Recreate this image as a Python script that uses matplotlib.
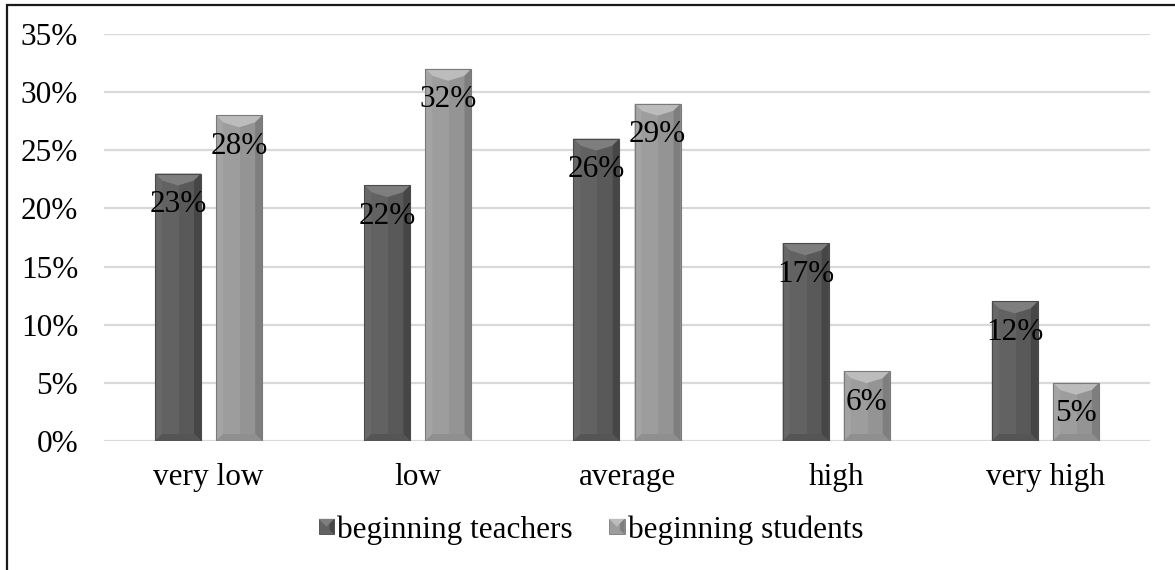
import matplotlib
matplotlib.use("Agg")
import matplotlib.pyplot as plt
import numpy as np
from matplotlib.patches import Polygon, Rectangle
from matplotlib.legend_handler import HandlerPatch
from matplotlib.ticker import FuncFormatter

categories = ["very low", "low", "average", "high", "very high"]
teachers = [23, 22, 26, 17, 12]
students = [28, 32, 29, 6, 5]
series_names = ["beginning teachers", "beginning students"]
yticks = [0, 5, 10, 15, 20, 25, 30, 35]

plt.rcParams['font.family'] = ['Liberation Serif', 'DejaVu Serif']
FS = 22.5

W, H = 1175, 570
fig = plt.figure(figsize=(W / 100, H / 100), dpi=100)
ax = fig.add_axes([104 / W, 1 - 441 / H, (1150 - 104) / W, (441 - 34) / H])

x = np.arange(len(categories))
bw = 0.22
off = 0.146

pal = {
    0: dict(face='#626262', right='#595959', top='#7e7e7e', lft='#686868', rgt='#464646', bot='#555555', edge='#4a4a4a'),
    1: dict(face='#9d9d9d', right='#949494', top='#bcbcbc', lft='#a4a4a4', rgt='#7e7e7e', bot='#8f8f8f', edge='#7a7a7a'),
}

bars0 = ax.bar(x - off, teachers, bw, color=pal[0]['face'], zorder=2, linewidth=0)
bars1 = ax.bar(x + off, students, bw, color=pal[1]['face'], zorder=2, linewidth=0)

ax.set_xlim(-0.5, len(categories) - 0.5)
ax.set_ylim(0, 35)
ax.set_yticks(yticks)
ax.yaxis.set_major_formatter(FuncFormatter(lambda v, p: f"{v:.0f}%"))
ax.set_xticks(x)
ax.set_xticklabels(categories)
ax.tick_params(axis='both', length=0, labelsize=FS)
ax.tick_params(axis='y', pad=18.5)
ax.tick_params(axis='x', pad=16)
for s in ax.spines.values():
    s.set_visible(False)
ax.grid(axis='y', color='#d9d9d9', linewidth=1.6, zorder=0)
ax.set_axisbelow(True)

fig.canvas.draw()
b = 7.0
inv = ax.transData.inverted()


def bevel(rect, c):
    bb = rect.get_window_extent()
    x0, x1, y0, y1 = bb.x0, bb.x1, bb.y0, bb.y1
    xm = x0 + (x1 - x0) * 0.52
    xc = (x0 + x1) / 2
    polys = [
        ([(xm, y0 + b), (x1 - b, y0 + b), (x1 - b, y1 - b), (xm, y1 - b)], c['right']),
        ([(x0, y1), (x1, y1), (x1 - b, y1 - b), (xc, y1 - 1.7 * b), (x0 + b, y1 - b)], c['top']),
        ([(x0, y0), (x0 + b, y0 + b), (x0 + b, y1 - b), (x0, y1)], c['lft']),
        ([(x1, y0), (x1, y1), (x1 - b, y1 - b), (x1 - b, y0 + b)], c['rgt']),
        ([(x0, y0), (x1, y0), (x1 - b, y0 + b), (x0 + b, y0 + b)], c['bot']),
    ]
    for pts, col in polys:
        ax.add_patch(Polygon(inv.transform(pts), closed=True, facecolor=col,
                             edgecolor='none', zorder=3))
    (dx0, dy0), (dx1, dy1) = inv.transform([(x0, y0), (x1, y1)])
    ax.add_patch(Rectangle((dx0, dy0), dx1 - dx0, dy1 - dy0, facecolor='none',
                           edgecolor=c['edge'], linewidth=0.8, zorder=3))


for r in bars0:
    bevel(r, pal[0])
for r in bars1:
    bevel(r, pal[1])

for bars, vals in ((bars0, teachers), (bars1, students)):
    for r, v in zip(bars, vals):
        ax.annotate(f"{v}%", (r.get_x() + r.get_width() / 2, v),
                    xytext=(0, -31), textcoords='offset pixels',
                    ha='center', va='center', fontsize=FS, color='black', zorder=5)


class BevelHandler(HandlerPatch):
    def __init__(self, c):
        super().__init__()
        self.c = c

    def create_artists(self, legend, orig_handle, xdescent, ydescent, width, height, fontsize, trans):
        s = min(width, height)
        x0 = -xdescent + (width - s) / 2
        y0 = -ydescent + (height - s) / 2
        bb = s * 0.3
        arts = [Rectangle((x0, y0), s, s, facecolor=self.c['face'], edgecolor=self.c['edge'], lw=0.6),
                Polygon([(x0, y0 + s), (x0 + s, y0 + s), (x0 + s / 2, y0 + s / 2)], closed=True,
                        facecolor=self.c['top'], edgecolor='none'),
                Polygon([(x0 + s, y0), (x0 + s, y0 + s), (x0 + s - bb, y0 + s - bb), (x0 + s - bb, y0 + bb)],
                        closed=True, facecolor=self.c['rgt'], edgecolor='none')]
        for a in arts:
            a.set_transform(trans)
        return arts


h0 = Rectangle((0, 0), 1, 1)
h1 = Rectangle((0, 0), 1, 1)
fig.legend([h0, h1], series_names, loc='center', bbox_to_anchor=(591 / W, 1 - 530 / H),
           ncol=2, frameon=False, fontsize=FS, handlelength=0.5, handleheight=0.5,
           handletextpad=0.1, columnspacing=1.15,
           handler_map={h0: BevelHandler(pal[0]), h1: BevelHandler(pal[1])})

# outer frame (top and left edges visible)
fig.add_artist(Rectangle((7, -20), W + 20, H - 5 + 20, facecolor='none', edgecolor='#1a1a1a',
                         linewidth=1.6, transform=None, zorder=10))

fig.savefig("out.png", dpi=100)
